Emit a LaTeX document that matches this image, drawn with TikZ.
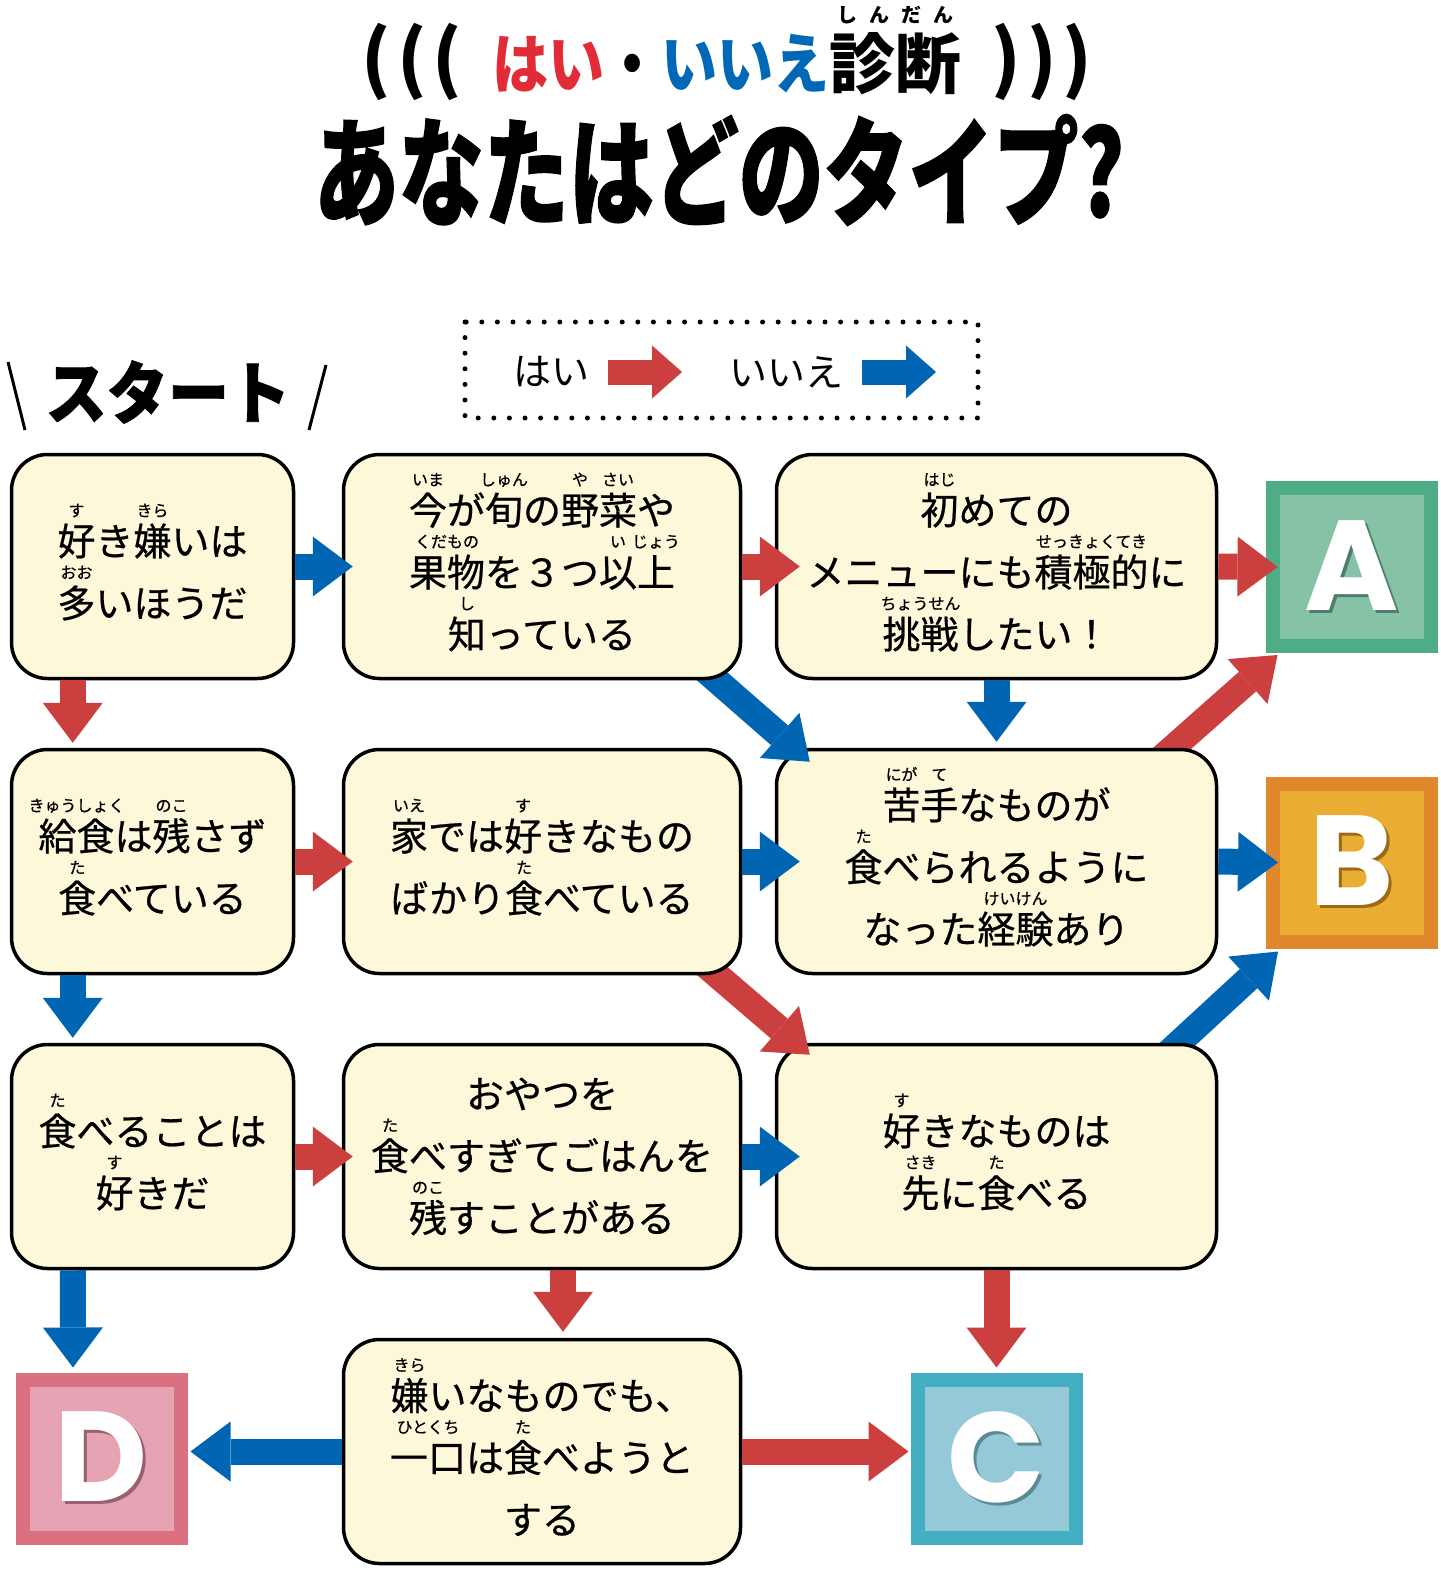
\documentclass[tikz,border=0pt]{standalone}
\usepackage{fontspec}
\usepackage{graphicx}
\usetikzlibrary{arrows.meta,calc}
\newfontfamily\jp{Noto Sans CJK JP}
\newfontfamily\jpbox{Noto Sans CJK JP}[FakeBold=0.6]
\newfontfamily\jpheavy{Noto Sans CJK JP}[BoldFeatures={FakeBold=1.2}]
\newfontfamily\lat{Poppins}
\definecolor{cream}{HTML}{FEF8DB}
\definecolor{yesred}{HTML}{CC3F3F}
\definecolor{noblue}{HTML}{0066B3}
\definecolor{ttlred}{HTML}{E12B37}
\definecolor{ttlblue}{HTML}{0068B7}
\definecolor{Aout}{HTML}{4EAD85}\definecolor{Ain}{HTML}{86C2A6}\definecolor{Ash}{HTML}{4F7D6B}
\definecolor{Bout}{HTML}{E0862B}\definecolor{Bin}{HTML}{E9AD33}\definecolor{Bsh}{HTML}{9B6A12}
\definecolor{Cout}{HTML}{44AFC3}\definecolor{Cin}{HTML}{95C9D8}\definecolor{Csh}{HTML}{5A8A95}
\definecolor{Dout}{HTML}{DB7080}\definecolor{Din}{HTML}{E6A3B3}\definecolor{Dsh}{HTML}{996070}
\newbox\rbbox
\newcommand\rbg[4]{\leavevmode\setbox\rbbox=\hbox{#1}\rlap{\hbox to \wd\rbbox{\hss\smash{\raisebox{#3}{\fontsize{#4}{#4}\selectfont #2}}\hss}}\box\rbbox}
\newcommand\rb[2]{\rbg{#1}{#2}{39pt}{16pt}}
\newcommand\tl{\rule{0pt}{43pt}}
\newcommand\shl[2]{\rlap{\kern3pt\raisebox{-3pt}{\textcolor{#1}{#2}}}#2}
\pgfdeclarelayer{bg}\pgfdeclarelayer{l0}\pgfdeclarelayer{l1}\pgfdeclarelayer{l2}\pgfdeclarelayer{l3}
\pgfsetlayers{bg,l0,l1,l2,l3,main}
\tikzset{
  qbox/.style={draw=black, line width=3.5pt, fill=cream, rounded corners=36pt, minimum height=224pt, inner sep=0pt, align=center, font=\jpbox\fontsize{38}{62}\selectfont},
  cone/.style={minimum width=282pt},
  ctwo/.style={minimum width=397pt},
  cthree/.style={minimum width=440pt},
  res/.style={line width=14pt, minimum size=158pt, inner sep=0pt, text=white, font=\lat\bfseries\fontsize{128}{128}\selectfont},
  yarrow/.style={draw=yesred, line width=26pt, -{Triangle[length=40pt,width=60pt,line width=0pt]}},
  narrow/.style={draw=noblue, line width=26pt, -{Triangle[length=40pt,width=60pt,line width=0pt]}},
  lyarrow/.style={draw=yesred, line width=25pt, -{Triangle[length=30pt,width=53pt,line width=0pt]}},
  lnarrow/.style={draw=noblue, line width=25pt, -{Triangle[length=30pt,width=53pt,line width=0pt]}},
}
\begin{document}
\begin{tikzpicture}[x=1pt,y=-1pt]
\begin{pgfonlayer}{bg}
\fill[white] (0,0) rectangle (1440,1570);
\end{pgfonlayer}
\useasboundingbox (0,0) rectangle (1440,1570);

% titles
\node (lp) at (412,62) {\jp\bfseries\fontsize{74}{74}\selectfont (\hspace{6pt}(\hspace{6pt}(};
\node (rp) at (1042,62) {\jp\bfseries\fontsize{74}{74}\selectfont )\hspace{6pt})\hspace{6pt})};
\node (t1) at (727,64) {\jp\bfseries\fontsize{66}{66}\selectfont\scalebox{0.85}[1]{\textcolor{ttlred}{はい}・\textcolor{ttlblue}{いいえ}}\rbg{診断}{し\hspace{12pt}ん\hspace{12pt}だ\hspace{12pt}ん}{66pt}{20pt}};
\node (t2) at (719,170) {\jpheavy\bfseries\fontsize{118}{118}\selectfont\scalebox{0.72}[1]{あなたはどのタイプ?}};

% start label
\node (start) at (168,392) {\jpheavy\bfseries\fontsize{68}{68}\selectfont\scalebox{0.9}[1]{スタート}};
\draw[line width=3pt] (8,362) -- (25,430);
\draw[line width=3pt] (326,365) -- (309,430);

% legend
\draw[line width=5pt, dash pattern=on 0pt off 15.6pt, line cap=round] (465,322) rectangle (978,418);
\node (lyes) at (551,372) {\jp\fontsize{38}{38}\selectfont はい};
\node (lno) at (786,372) {\jp\fontsize{38}{38}\selectfont いいえ};
\coordinate (ly1) at (608,372); \coordinate (ly2) at (682,372);
\coordinate (ln1) at (862,372); \coordinate (ln2) at (936,372);
\draw[lyarrow] (ly1) -- (ly2);
\draw[lnarrow] (ln1) -- (ln2);

% result squares
\begin{pgfonlayer}{l0}
\node[res, draw=Aout, fill=Ain] (A) at (1351.5,567) {\shl{Ash}{A}};
\node[res, draw=Bout, fill=Bin] (B) at (1352,862.5) {\shl{Bsh}{B}};
\node[res, draw=Cout, fill=Cin] (C) at (996.5,1458.5) {\shl{Csh}{C}};
\node[res, draw=Dout, fill=Din] (D) at (101.5,1458.5) {\shl{Dsh}{D}};
\end{pgfonlayer}

% question boxes
\begin{pgfonlayer}{l2}
\node[qbox,cthree] (b6) at (996.5,861.5) {\tl\rb{苦}{にが}\rb{手}{て}なものが\\\rb{食}{た}べられるように\\なった\rb{経験}{けいけん}あり};
\node[qbox,cthree] (b9) at (996.5,1156.5) {\tl\rb{好}{す}きなものは\\\rb{先}{さき}に\rb{食}{た}べる};
\end{pgfonlayer}
\node[qbox,cone] (b1) at (152.5,566.5) {\tl\rb{好}{す}き\rb{嫌}{きら}いは\\\rb{多}{おお}いほうだ};
\node[qbox,ctwo] (b2) at (542,566.5) {\tl\rb{今}{いま}が\rb{旬}{しゅん}の\rb{野}{や}\rb{菜}{さい}や\\\rb{果物}{くだもの}を３つ\rb{以}{い}\rb{上}{じょう}\\\rb{知}{し}っている};
\node[qbox,cthree] (b3) at (996.5,566.5) {\tl\rb{初}{はじ}めての\\メニューにも\rb{積極的}{せっきょくてき}に\\\rb{挑戦}{ちょうせん}したい！};
\node[qbox,cone] (b4) at (152.5,861.5) {\tl\rb{給食}{きゅうしょく}は\rb{残}{のこ}さず\\\rb{食}{た}べている};
\node[qbox,ctwo] (b5) at (542,861.5) {\tl\rb{家}{いえ}では\rb{好}{す}きなもの\\ばかり\rb{食}{た}べている};
\node[qbox,cone] (b7) at (152.5,1156.5) {\tl\rb{食}{た}べることは\\\rb{好}{す}きだ};
\node[qbox,ctwo] (b8) at (542,1156.5) {おやつを\\\rb{食}{た}べすぎてごはんを\\\rb{残}{のこ}すことがある};
\node[qbox,ctwo] (b10) at (542,1451.5) {\tl\rb{嫌}{きら}いなものでも、\\\rb{一口}{ひとくち}は\rb{食}{た}べようと\\する};

% diagonal arrows (under their source boxes)
\begin{pgfonlayer}{l1}
\draw[yarrow] ($(b6.north east)+(-68,20)$) -- ($(A.south west)+(12,2)$);
\draw[narrow] ($(b9.north east)+(-62,21)$) -- ($(B.south west)+(12,3)$);
\end{pgfonlayer}
\begin{pgfonlayer}{l3}
\draw[narrow] ($(b2.south east)+(-60,-30)$) -- ($(b6.north west)+(35,14)$);
\draw[yarrow] ($(b5.south east)+(-60,-30)$) -- ($(b9.north west)+(35,12)$);
\end{pgfonlayer}

% straight arrows
\draw[narrow] (b1.east) -- ($(b2.west)+(11,0)$);
\draw[yarrow] (b2.east) -- ($(b3.west)+(25,0)$);
\draw[yarrow] (b3.east) -- ($(A.west)+(12,0)$);
\draw[yarrow] (b4.east) -- ($(b5.west)+(11,0)$);
\draw[narrow] (b5.east) -- ($(b6.west)+(25,0)$);
\draw[narrow] (b6.east) -- ($(B.west)+(12,0)$);
\draw[yarrow] (b7.east) -- ($(b8.west)+(11,0)$);
\draw[narrow] (b8.east) -- ($(b9.west)+(25,0)$);
\draw[narrow] (b10.west) -- ($(b10.west -| D.east)+(3,0)$);
\draw[yarrow] (b10.east) -- ($(b10.east -| C.west)+(-2,0)$);
\draw[yarrow] ($(b1.south west)+(63,0)$) -- ($(b4.north west)+(63,-5)$);
\draw[narrow] ($(b4.south west)+(63,0)$) -- ($(b7.north west)+(63,-5)$);
\draw[narrow] ($(b7.south west)+(63,0)$) -- ($(D.north)+(-28.5,-5)$);
\draw[narrow] (b3.south) -- ($(b6.north)+(0,-6)$);
\draw[yarrow] ($(b8.south)+(21,0)$) -- ($(b10.north)+(21,-6)$);
\draw[yarrow] (b9.south) -- ($(C.north)+(0,-5)$);
\end{tikzpicture}
\end{document}
